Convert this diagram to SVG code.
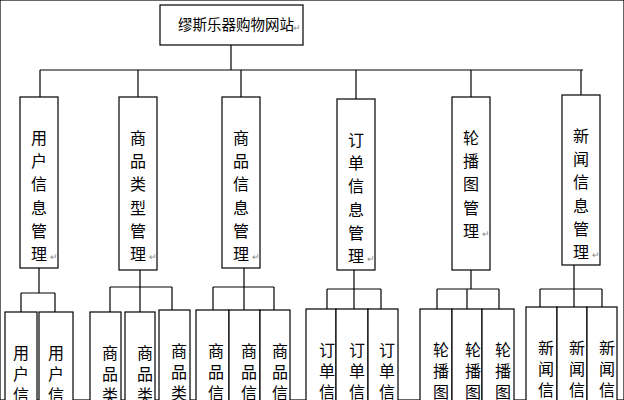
<svg xmlns="http://www.w3.org/2000/svg" width="624" height="400" viewBox="0 0 624 400">
<style>
rect{fill:#fff;stroke:#000;stroke-width:1.2}
text{font-family:"Noto Sans CJK SC",sans-serif;font-size:16px;fill:#000;text-anchor:middle}
.m{font-size:9px;fill:#888}
#c path{fill:none;stroke:#000;stroke-width:1.2}
</style>
<rect width="624" height="400" fill="#fff" stroke="none"/>
<g id="c">
<path d="M231 45V70M40 70H583M40 70V97M138 70V97M241 70V97M356 70V99M471 70V97M581 70V95"/>
<path d="M39 268V293M21 293H55M21 293V312M55 293V312"/>
<path d="M140 270V287M110 287H172M110 287V312M140 287V312M172 287V310"/>
<path d="M244 268V287M213 287H274M213 287V310M244 287V310M274 287V310"/>
<path d="M354 270V289M327 289H381M327 289V309M354 289V309M381 289V309"/>
<path d="M471 270V289M437 289H499M437 289V309M467 289V309M499 289V309"/>
<path d="M574 265V289M540 289H602M540 289V307M574 289V307M602 289V307"/>
</g>
<g id="root"><rect x="160" y="5" width="143" height="40"/><text x="236" y="30" style="font-size:14.5px">缪斯乐器购物网站</text><text class="m" x="297" y="31">↵</text></g>
<g id="n1"><rect x="20" y="97" width="38" height="171"/><text x="39" y="144">用<tspan x="39" dy="23.2">户</tspan><tspan x="39" dy="23.2">信</tspan><tspan x="39" dy="23.2">息</tspan><tspan x="39" dy="23.2">管</tspan><tspan x="39" dy="23.2">理</tspan></text><text class="m" x="54" y="260">↵</text></g>
<g id="n2"><rect x="119" y="97" width="38" height="173"/><text x="138" y="144">商<tspan x="138" dy="23.2">品</tspan><tspan x="138" dy="23.2">类</tspan><tspan x="138" dy="23.2">型</tspan><tspan x="138" dy="23.2">管</tspan><tspan x="138" dy="23.2">理</tspan></text><text class="m" x="153" y="260">↵</text></g>
<g id="n3"><rect x="222" y="97" width="38" height="171"/><text x="241" y="144">商<tspan x="241" dy="23.2">品</tspan><tspan x="241" dy="23.2">信</tspan><tspan x="241" dy="23.2">息</tspan><tspan x="241" dy="23.2">管</tspan><tspan x="241" dy="23.2">理</tspan></text><text class="m" x="256" y="260">↵</text></g>
<g id="n4"><rect x="337" y="99" width="38" height="171"/><text x="356" y="146">订<tspan x="356" dy="23.2">单</tspan><tspan x="356" dy="23.2">信</tspan><tspan x="356" dy="23.2">息</tspan><tspan x="356" dy="23.2">管</tspan><tspan x="356" dy="23.2">理</tspan></text><text class="m" x="371" y="262">↵</text></g>
<g id="n5"><rect x="452" y="97" width="38" height="173"/><text x="471" y="144">轮<tspan x="471" dy="23.2">播</tspan><tspan x="471" dy="23.2">图</tspan><tspan x="471" dy="23.2">管</tspan><tspan x="471" dy="23.2">理</tspan></text><text class="m" x="486" y="237">↵</text></g>
<g id="n6"><rect x="562" y="95" width="38" height="170"/><text x="581" y="142">新<tspan x="581" dy="23.2">闻</tspan><tspan x="581" dy="23.2">信</tspan><tspan x="581" dy="23.2">息</tspan><tspan x="581" dy="23.2">管</tspan><tspan x="581" dy="23.2">理</tspan></text><text class="m" x="596" y="258">↵</text></g>
<g id="l1a"><rect x="5" y="312" width="32" height="100"/><text x="21" y="359">用<tspan x="21" dy="21">户</tspan><tspan x="21" dy="21">信</tspan></text></g>
<g id="l1b"><rect x="39" y="312" width="34" height="100"/><text x="56" y="359">用<tspan x="56" dy="21">户</tspan><tspan x="56" dy="21">信</tspan></text></g>
<g id="l2a"><rect x="90" y="312" width="31" height="100"/><text x="110" y="359">商<tspan x="110" dy="21">品</tspan><tspan x="110" dy="21">类</tspan></text></g>
<g id="l2b"><rect x="125" y="312" width="30" height="100"/><text x="145" y="359">商<tspan x="145" dy="21">品</tspan><tspan x="145" dy="21">类</tspan></text></g>
<g id="l2c"><rect x="159" y="310" width="31" height="100"/><text x="179" y="357">商<tspan x="179" dy="21">品</tspan><tspan x="179" dy="21">类</tspan></text></g>
<g id="l3a"><rect x="196" y="310" width="33" height="100"/><text x="216" y="357">商<tspan x="216" dy="21">品</tspan><tspan x="216" dy="21">信</tspan></text></g>
<g id="l3b"><rect x="229" y="310" width="31" height="100"/><text x="249" y="357">商<tspan x="249" dy="21">品</tspan><tspan x="249" dy="21">信</tspan></text></g>
<g id="l3c"><rect x="260" y="310" width="30" height="100"/><text x="280" y="357">商<tspan x="280" dy="21">品</tspan><tspan x="280" dy="21">信</tspan></text></g>
<g id="l4a"><rect x="306" y="309" width="30" height="100"/><text x="327" y="356">订<tspan x="327" dy="21">单</tspan><tspan x="327" dy="21">信</tspan></text></g>
<g id="l4b"><rect x="336" y="309" width="32" height="100"/><text x="357" y="356">订<tspan x="357" dy="21">单</tspan><tspan x="357" dy="21">信</tspan></text></g>
<g id="l4c"><rect x="368" y="309" width="30" height="100"/><text x="387" y="356">订<tspan x="387" dy="21">单</tspan><tspan x="387" dy="21">信</tspan></text></g>
<g id="l5a"><rect x="420" y="309" width="32" height="100"/><text x="441" y="356">轮<tspan x="441" dy="21">播</tspan><tspan x="441" dy="21">图</tspan></text></g>
<g id="l5b"><rect x="452" y="309" width="30" height="100"/><text x="473" y="356">轮<tspan x="473" dy="21">播</tspan><tspan x="473" dy="21">图</tspan></text></g>
<g id="l5c"><rect x="482" y="309" width="32" height="100"/><text x="503" y="356">轮<tspan x="503" dy="21">播</tspan><tspan x="503" dy="21">图</tspan></text></g>
<g id="l6a"><rect x="526" y="307" width="31" height="100"/><text x="546" y="354">新<tspan x="546" dy="21">闻</tspan><tspan x="546" dy="21">信</tspan></text></g>
<g id="l6b"><rect x="557" y="307" width="30" height="100"/><text x="577" y="354">新<tspan x="577" dy="21">闻</tspan><tspan x="577" dy="21">信</tspan></text></g>
<g id="l6c"><rect x="587" y="307" width="30" height="100"/><text x="607" y="354">新<tspan x="607" dy="21">闻</tspan><tspan x="607" dy="21">信</tspan></text></g>
</svg>
